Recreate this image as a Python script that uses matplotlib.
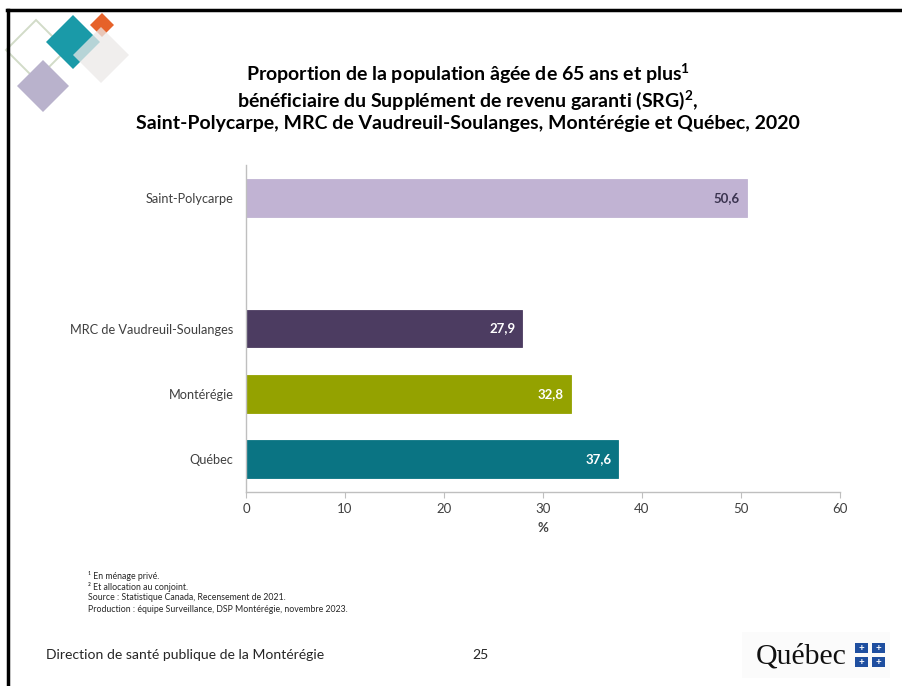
import matplotlib
matplotlib.use("Agg")
import matplotlib.pyplot as plt
from matplotlib.patches import Polygon, Rectangle
import numpy as np

# ---- data ----
categories = ["Saint-Polycarpe", "MRC de Vaudreuil-Soulanges", "Montérégie", "Québec"]
values = [50.6, 27.9, 32.8, 37.6]
value_labels = ["50,6", "27,9", "32,8", "37,6"]
bar_colors = ["#c1b3d3", "#4c3c61", "#94a200", "#0a7483"]
label_colors = ["#3b3450", "white", "white", "white"]
x_ticks = [0, 10, 20, 30, 40, 50, 60]
title_lines = [
    r"Proportion de la population âgée de 65 ans et plus$^{\mathbf{1}}$",
    r"bénéficiaire du Supplément de revenu garanti (SRG)$^{\mathbf{2}}$,",
    "Saint-Polycarpe, MRC de Vaudreuil-Soulanges, Montérégie et Québec, 2020",
]
footnotes = [
    "¹ En ménage privé.",
    "² Et allocation au conjoint.",
    "Source : Statistique Canada, Recensement de 2021.",
    "Production : équipe Surveillance, DSP Montérégie, novembre 2023.",
]

plt.rcParams['font.family'] = ['Lato', 'DejaVu Sans']
plt.rcParams['mathtext.fontset'] = 'custom'
plt.rcParams['mathtext.rm'] = 'Lato'
plt.rcParams['mathtext.it'] = 'Lato'
plt.rcParams['mathtext.bf'] = 'Lato:bold'

W, H = 902, 686
fig = plt.figure(figsize=(W / 100, H / 100), dpi=100)
fig.patch.set_facecolor("white")

def px(x, y):
    return (x / W, 1 - y / H)

# slide frame (top and left black borders)
fig.add_artist(plt.Line2D([7 / W, 1], [1 - 10 / H, 1 - 10 / H], color="black", lw=2.5,
                          transform=fig.transFigure))
fig.add_artist(plt.Line2D([8 / W, 8 / W], [0, 1 - 10 / H], color="black", lw=2.5,
                          transform=fig.transFigure))

# decorative diamonds top-left
def diamond(cx, cy, r, **kw):
    pts = [px(cx, cy - r), px(cx + r, cy), px(cx, cy + r), px(cx - r, cy)]
    fig.add_artist(Polygon(pts, closed=True, transform=fig.transFigure, **kw))

diamond(36, 50, 30, facecolor="none", edgecolor="#d2dbc8", lw=1.4)
diamond(43, 86, 26, facecolor="#b9b2cc", edgecolor="none")
diamond(73, 42, 27, facecolor="#1a9aa8", edgecolor="none")
diamond(102, 25, 12, facecolor="#e6622a", edgecolor="none")
diamond(101, 55, 28, facecolor="#ebe9e8", edgecolor="none", alpha=0.75)

# title
title_y = [74, 100, 124]
for line, yy in zip(title_lines, title_y):
    fig.text(*px(468, yy), line, ha="center", va="center", fontsize=14,
             fontweight="bold", color="black")

# axes
ax = fig.add_axes([246 / W, 1 - 492 / H, (840 - 246) / W, (492 - 165) / H])
ypos = [4, 2, 1, 0]
ax.barh(ypos, values, height=0.58, color=bar_colors, edgecolor=bar_colors, lw=0.6)
for y, v, lab, c in zip(ypos, values, value_labels, label_colors):
    ax.annotate(lab, (v, y), xytext=(-5, 0), textcoords="offset points",
                ha="right", va="center", fontsize=9.5, fontweight="bold", color=c)
ax.set_xlim(0, 60)
ax.set_ylim(-0.5, 4.5)
ax.set_xticks(x_ticks)
ax.set_xticklabels([str(t) for t in x_ticks], fontsize=9.5, color="#404040")
ax.set_yticks(ypos)
ax.set_yticklabels(categories, fontsize=9.2, color="#404040")
ax.tick_params(axis="y", length=0, pad=9)
ax.tick_params(axis="x", length=4, color="#bfbfbf", pad=4)
for s in ["top", "right"]:
    ax.spines[s].set_visible(False)
for s in ["left", "bottom"]:
    ax.spines[s].set_color("#bfbfbf")
    ax.spines[s].set_linewidth(1)
ax.set_xlabel("%", fontsize=9.5, fontweight="bold", color="#404040", labelpad=5)

# footnotes
for i, t in enumerate(footnotes):
    fig.text(*px(88, 576 + i * 11), t, ha="left", va="center", fontsize=6.3, color="#262626")

# footer
fig.text(*px(46, 655), "Direction de santé publique de la Montérégie", ha="left",
         va="center", fontsize=10.1, color="#262626")
fig.text(*px(480, 655), "25", ha="center", va="center", fontsize=10.1, color="#262626")

# Québec logo
fig.add_artist(Rectangle(px(742, 678), 148 / W, 46 / H, transform=fig.transFigure,
                         facecolor="#fbfbfb", edgecolor="none"))
fig.text(*px(801, 656), "Québec", ha="center", va="center", fontsize=21.5,
         family="Liberation Serif", color="#111111")
for sx in (855, 872):
    for sy in (643, 657):
        fig.add_artist(Rectangle(px(sx, sy + 10), 13 / W, 10 / H, transform=fig.transFigure,
                                 facecolor="#1f4fa0", edgecolor="none"))
        fig.text(*px(sx + 6.5, sy + 5), "+", ha="center", va="center", fontsize=7,
                 color="white", fontweight="bold")

fig.savefig("out.png", dpi=100)
